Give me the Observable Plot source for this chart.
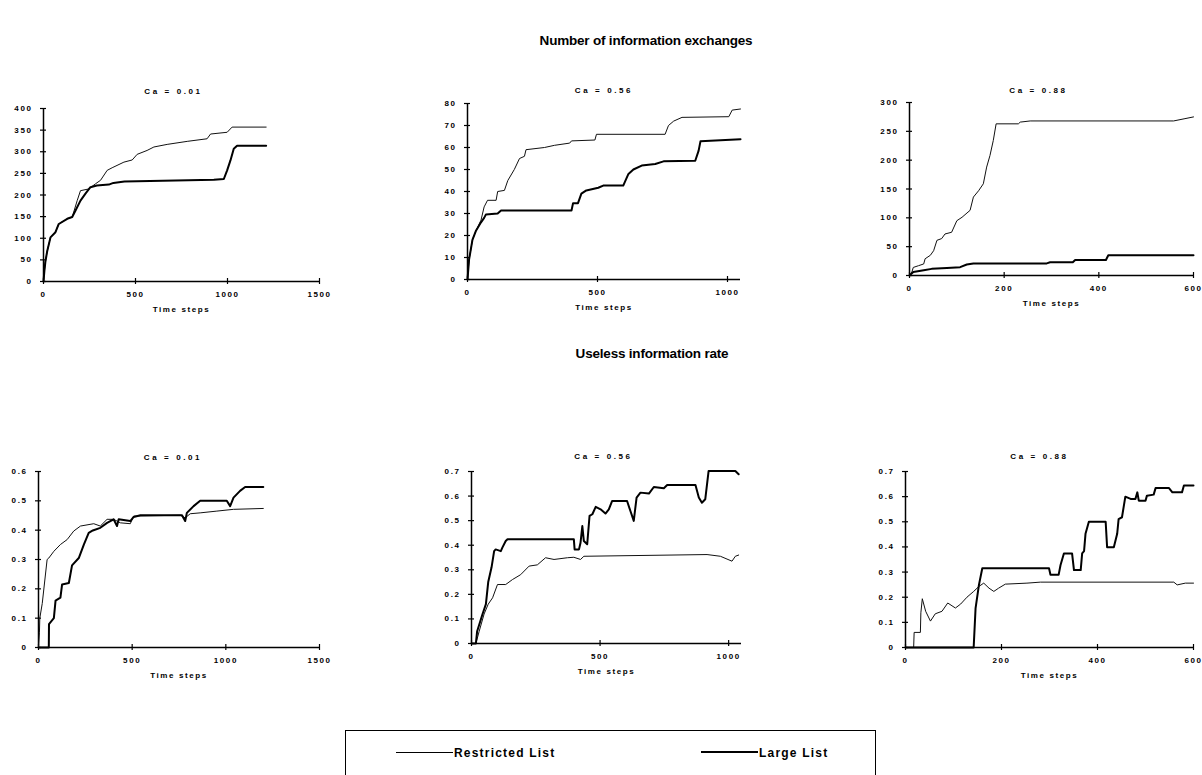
<!DOCTYPE html>
<html>
<head>
<meta charset="utf-8">
<script src="https://cdn.jsdelivr.net/npm/d3@7"></script>
<script src="https://cdn.jsdelivr.net/npm/@observablehq/plot@0.6"></script>
<style>
  html, body { margin: 0; padding: 0; background: #fff; overflow: hidden; }
  #page { position: relative; width: 1202px; height: 775px; overflow: hidden; font-family: "Liberation Sans", Arial, sans-serif; color: #000; }
  .title { position: absolute; font-weight: bold; font-size: 13.5px; letter-spacing: -0.2px; white-space: nowrap; transform: translate(-50%, -50%); }
  .panel { position: absolute; }
  #legend { position: absolute; left: 345px; top: 730px; width: 531px; height: 80px; border: 1px solid #000; box-sizing: border-box; }
  .lg-line { position: absolute; background: #000; }
  .lg-text { position: absolute; font-weight: bold; font-size: 12px; letter-spacing: 1.2px; white-space: nowrap; transform: translateY(-50%); }
</style>
</head>
<body>
<div id="page">
  <div class="title" style="left:646px; top:40px;">Number of information exchanges</div>
  <div class="title" style="left:652px; top:353px;">Useless information rate</div>
  <div id="legend">
    <div class="lg-line" style="left:50px; top:21px; width:57px; height:1px;"></div>
    <div class="lg-text" style="left:108px; top:22px;">Restricted List</div>
    <div class="lg-line" style="left:355px; top:20px; width:57px; height:2px;"></div>
    <div class="lg-text" style="left:413px; top:22px;">Large List</div>
  </div>
</div>
<script>
// ---------- Data ----------
const seriesNames = ["Restricted List", "Large List"];
const panelTitles = ["Ca = 0.01", "Ca = 0.56", "Ca = 0.88", "Ca = 0.01", "Ca = 0.56", "Ca = 0.88"];
const xLabel = "Time steps";

// X tick labels
const xTicksLong = [0, 500, 1000, 1500];
const xTicksMid = [0, 500, 1000];
const xTicksShort = [0, 200, 400, 600];
// Y tick labels
const yTicksEx1 = [0, 50, 100, 150, 200, 250, 300, 350, 400];
const yTicksEx2 = [0, 10, 20, 30, 40, 50, 60, 70, 80];
const yTicksEx3 = [0, 50, 100, 150, 200, 250, 300];
const yTicksRate6 = [0, 0.1, 0.2, 0.3, 0.4, 0.5, 0.6];
const yTicksRate7 = [0, 0.1, 0.2, 0.3, 0.4, 0.5, 0.6, 0.7];

// Panel 1: Number of information exchanges, Ca = 0.01
const p1RestrictedT = [0,5,10,20,38,65,83,129,156,183,201,246,283,310,346,373,437,482,509,563,600,672,781,889,908,998,1025,1210];
const p1RestrictedV = [0,25,45,70,102,114,133,145,149,187,210,214,226,234,257,263,276,281,294,303,311,317,324,330,341,345,357,357];
const p1LargeT = [0,5,10,20,38,65,83,129,156,174,201,228,255,290,355,380,440,926,980,998,1016,1034,1052,1210];
const p1LargeV = [0,25,45,70,102,114,133,145,149,164,187,203,218,222,224,228,231,235,237,257,280,307,314,314];

// Panel 2: Number of information exchanges, Ca = 0.56
const p2RestrictedT = [0,6,19,32,52,64,77,110,116,142,155,180,200,219,225,296,335,393,400,490,496,760,773,793,825,1005,1018,1050];
const p2RestrictedV = [0,9,18,22,27,33,36,36,40,40.5,45,50,55,56,59,60,61,62,63,63.4,66,66,70,72,73.7,74,77,77.5];
const p2LargeT = [0,6,19,32,52,64,71,116,129,400,406,425,438,457,503,522,599,619,638,670,722,754,876,889,896,1050];
const p2LargeV = [0,9,18,22,26,28,29.6,30,31.4,31.4,34.7,34.7,39,40.5,41.7,42.7,42.7,48,50,51.8,52.5,53.7,54,58.6,62.8,63.8];

// Panel 3: Number of information exchanges, Ca = 0.88
const p3RestrictedT = [0,5,8,19,30,33,44,51,58,68,75,89,100,111,128,135,146,156,163,170,177,183,230,234,255,558,582,600];
const p3RestrictedV = [0,6,14,17,20,29,35,43,61,64,72,75,95,101,113,136,147,159,188,208,234,263,263,266,268,268,272,275];
const p3LargeT = [0,8,30,47,79,107,121,135,290,297,345,350,415,420,600];
const p3LargeV = [0,6,9,11.5,13,14.5,19,21,21,23,23,27,27,35,35];

// Panel 4: Useless information rate, Ca = 0.01
const p4RestrictedT = [0,5,7,20,46,55,82,117,153,188,224,295,330,366,401,437,490,508,757,783,810,863,952,1041,1200];
const p4RestrictedV = [0,0.05,0.1,0.15,0.3,0.305,0.328,0.351,0.368,0.397,0.414,0.422,0.414,0.437,0.437,0.425,0.422,0.448,0.451,0.442,0.456,0.459,0.465,0.471,0.474];
const p4LargeT = [0,55,56,82,91,117,126,162,179,215,242,268,290,330,366,401,419,428,490,508,544,766,783,792,828,863,1005,1023,1041,1076,1103,1200];
const p4LargeV = [0,0,0.08,0.1,0.16,0.17,0.215,0.22,0.28,0.305,0.351,0.391,0.399,0.408,0.425,0.437,0.414,0.437,0.431,0.445,0.451,0.451,0.431,0.459,0.482,0.5,0.5,0.482,0.511,0.534,0.547,0.547];

// Panel 5: Useless information rate, Ca = 0.56
const p5RestrictedT = [0,17,30,49,65,82,101,133,159,191,224,256,288,321,373,398,424,437,916,968,1013,1026,1039];
const p5RestrictedV = [0,0,0.05,0.12,0.16,0.186,0.24,0.24,0.26,0.28,0.315,0.32,0.349,0.342,0.349,0.351,0.342,0.355,0.362,0.355,0.335,0.355,0.36];
const p5LargeT = [0,17,22,43,56,65,78,88,94,114,120,133,140,398,401,418,424,431,437,450,459,470,483,502,521,534,547,605,618,631,642,657,690,709,748,761,871,884,896,909,922,1026,1039];
const p5LargeV = [0,0,0.05,0.12,0.16,0.25,0.31,0.376,0.383,0.376,0.39,0.417,0.424,0.424,0.383,0.383,0.41,0.478,0.417,0.404,0.519,0.526,0.556,0.546,0.529,0.546,0.58,0.58,0.539,0.499,0.594,0.614,0.61,0.637,0.632,0.645,0.645,0.594,0.573,0.587,0.702,0.702,0.689];

// Panel 6: Useless information rate, Ca = 0.88
const p6RestrictedT = [0,17,18,31,32,35,42,52,62,76,88,104,115,128,142,153,163,174,184,194,208,253,281,559,566,583,600];
const p6RestrictedV = [0,0,0.06,0.06,0.138,0.194,0.144,0.105,0.134,0.144,0.177,0.157,0.173,0.2,0.223,0.243,0.256,0.236,0.223,0.236,0.252,0.256,0.26,0.26,0.249,0.256,0.256];
const p6LargeT = [0,142,146,153,160,299,302,319,323,330,347,351,365,368,372,375,382,417,420,434,441,444,451,458,469,479,483,486,500,503,517,521,549,556,576,580,600];
const p6LargeV = [0,0,0.157,0.249,0.315,0.315,0.289,0.289,0.328,0.374,0.374,0.308,0.308,0.374,0.383,0.452,0.5,0.5,0.399,0.399,0.452,0.511,0.518,0.6,0.591,0.591,0.617,0.584,0.584,0.604,0.608,0.634,0.634,0.617,0.617,0.644,0.644];

// ---------- Layout (pixel geometry of each panel frame) ----------
const panels = [
  {title: panelTitles[0], r: [p1RestrictedT, p1RestrictedV], l: [p1LargeT, p1LargeV], xDomain: [0, 1500], yDomain: [0, 400], xTicks: xTicksLong, yTicks: yTicksEx1, x0: 43, x1: 319, yTop: 108, yBot: 281, titleDy: -20, titleDx: -8, mR: 20},
  {title: panelTitles[1], r: [p2RestrictedT, p2RestrictedV], l: [p2LargeT, p2LargeV], xDomain: [0, 1050], yDomain: [0, 80], xTicks: xTicksMid, yTicks: yTicksEx2, x0: 467, x1: 740, yTop: 103, yBot: 279, titleDy: -16, titleDx: 0, mR: 12},
  {title: panelTitles[2], r: [p3RestrictedT, p3RestrictedV], l: [p3LargeT, p3LargeV], xDomain: [0, 600], yDomain: [0, 300], xTicks: xTicksShort, yTicks: yTicksEx3, x0: 909, x1: 1193, yTop: 102, yBot: 275, titleDy: -15, titleDx: -13, mR: 9},
  {title: panelTitles[3], r: [p4RestrictedT, p4RestrictedV], l: [p4LargeT, p4LargeV], xDomain: [0, 1500], yDomain: [0, 0.6], xTicks: xTicksLong, yTicks: yTicksRate6, x0: 38, x1: 319, yTop: 471, yBot: 647, titleDy: -17, titleDx: -6, mR: 20},
  {title: panelTitles[4], r: [p5RestrictedT, p5RestrictedV], l: [p5LargeT, p5LargeV], xDomain: [0, 1050], yDomain: [0, 0.7], xTicks: xTicksMid, yTicks: yTicksRate7, x0: 471, x1: 741, yTop: 471, yBot: 643, titleDy: -18, titleDx: -3, mR: 12},
  {title: panelTitles[5], r: [p6RestrictedT, p6RestrictedV], l: [p6LargeT, p6LargeV], xDomain: [0, 600], yDomain: [0, 0.7], xTicks: xTicksShort, yTicks: yTicksRate7, x0: 905, x1: 1193, yTop: 471, yBot: 647, titleDy: -18, titleDx: -10, mR: 9}
];

const toRows = ([T, V]) => T.map((t, i) => ({t, v: V[i]}));
const page = document.getElementById("page");
const mL = 42, mT = 30, mB = 44;

for (const p of panels) {
  const w = mL + (p.x1 - p.x0) + p.mR;
  const h = mT + (p.yBot - p.yTop) + mB;
  const chart = Plot.plot({
    width: w,
    height: h,
    marginLeft: mL,
    marginRight: p.mR,
    marginTop: mT,
    marginBottom: mB,
    x: {domain: p.xDomain},
    y: {domain: p.yDomain},
    style: {fontFamily: "'Liberation Sans', Arial, sans-serif", fontSize: "8px", fontWeight: "bold", letterSpacing: "1.6px", color: "#000", background: "transparent", overflow: "visible"},
    marks: [
      Plot.axisX({ticks: p.xTicks, tickFormat: d => String(d), tickSize: 6, dy: -3, tickPadding: 7, label: null, stroke: "#000", strokeWidth: 1.2}),
      Plot.axisY({ticks: p.yTicks, tickFormat: d => String(d), tickSize: 6, dx: 3, tickPadding: 8, label: null, stroke: "#000", strokeWidth: 1.2}),
      Plot.ruleY([0], {stroke: "#000", strokeWidth: 1.5}),
      Plot.ruleX([0], {stroke: "#000", strokeWidth: 1.5}),
      Plot.line(toRows(p.r), {x: "t", y: "v", stroke: "#111", strokeWidth: 1}),
      Plot.line(toRows(p.l), {x: "t", y: "v", stroke: "#000", strokeWidth: 2}),
      Plot.text([p.title], {frameAnchor: "top", dy: p.titleDy, dx: p.titleDx, fontSize: 8, fontWeight: "bold"}),
      Plot.text([xLabel], {frameAnchor: "bottom", dy: 30, fontSize: 8, fontWeight: "bold"})
    ]
  });
  // wider letter spacing for the panel titles, as in the reference
  chart.querySelectorAll("text").forEach(t => {
    if (t.textContent === p.title) t.style.letterSpacing = "2.6px";
  });
  chart.classList.add("panel");
  chart.style.left = (p.x0 - mL) + "px";
  chart.style.top = (p.yTop - mT) + "px";
  page.appendChild(chart);
}
</script>
</body>
</html>
